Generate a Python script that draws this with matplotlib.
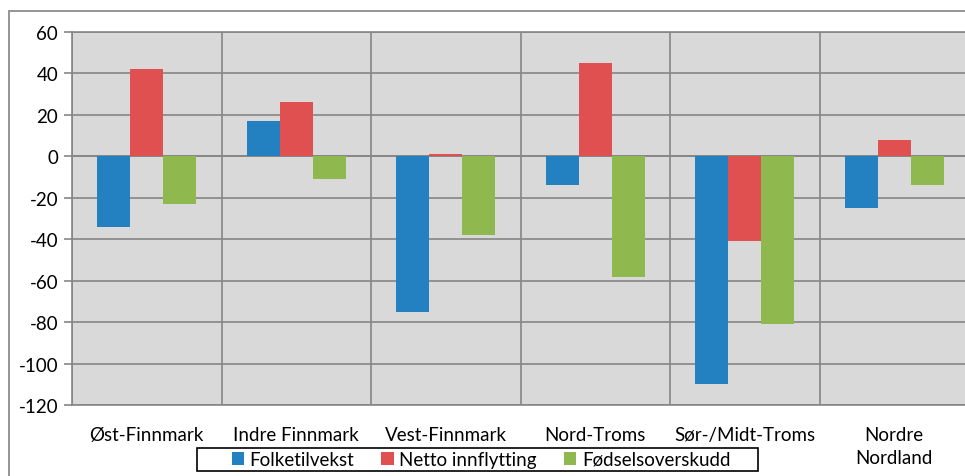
import numpy as np
import matplotlib
matplotlib.use("Agg")
import matplotlib.pyplot as plt
from matplotlib.patches import Rectangle

regions = ["Øst-Finnmark", "Indre Finnmark", "Vest-Finnmark", "Nord-Troms",
           "Sør-/Midt-Troms", "Nordre\nNordland"]
folketilvekst = [-34, 17, -75, -14, -110, -25]
netto_innflytting = [42, 26, 1, 45, -41, 8]
fodselsoverskudd = [-23, -11, -38, -58, -81, -14]

series = [
    ("Folketilvekst", folketilvekst, "#2481c1"),
    ("Netto innflytting", netto_innflytting, "#e05050"),
    ("Fødselsoverskudd", fodselsoverskudd, "#8fb94f"),
]

plt.rcParams["font.family"] = ["Lato", "DejaVu Sans"]
plt.rcParams["axes.unicode_minus"] = False
FS = 13.5

fig = plt.figure(figsize=(9.65, 4.77), dpi=100)
fig.patches.append(Rectangle((9 / 965, -0.1), 1.1, 1 - 12 / 477 + 0.1,
                             transform=fig.transFigure, fill=False,
                             edgecolor="#8c8c8c", lw=1.3))
ax = fig.add_axes([72 / 965, 1 - 406 / 477, 897 / 965, 373 / 477])
ax.set_facecolor("#d9d9d9")

x = np.arange(len(regions))
w = 0.22
for i, (label, vals, color) in enumerate(series):
    ax.bar(x + (i - 1) * w, vals, w, color=color, label=label, zorder=3)

ax.set_xlim(-0.5, len(regions) - 0.5)
ax.set_ylim(-120, 60)
ax.set_yticks(range(-120, 61, 20))
ax.set_xticks(x)
ax.set_xticklabels(regions, fontsize=FS, linespacing=1.45, va="top")
ax.set_xticks(np.arange(-0.5, len(regions), 1), minor=True)
ax.tick_params(axis="x", which="both", length=0, pad=15)
ax.tick_params(axis="y", length=6, color="#868686", width=1.2, labelsize=FS, pad=4)
ax.grid(axis="y", color="#868686", lw=1.2, zorder=1)
ax.grid(axis="x", which="minor", color="#868686", lw=1.2, zorder=1)
ax.axhline(0, color="#868686", lw=1.2, zorder=2)
for s in ax.spines.values():
    s.set_color("#868686")
    s.set_linewidth(1.2)

# legend box drawn separately
fig.patches.append(Rectangle((197 / 965, 1 - 472 / 477), 561 / 965, 23 / 477,
                             transform=fig.transFigure, fill=True,
                             facecolor="white", edgecolor="black", lw=1.2,
                             zorder=5))
leg = fig.legend(loc="center", bbox_to_anchor=(481 / 965, 1 - 460.5 / 477),
                 ncol=3, fontsize=FS, frameon=False,
                 handlelength=0.65, handleheight=0.65, handletextpad=0.3,
                 columnspacing=1.45, borderpad=0)
leg.set_zorder(6)

fig.savefig("out.png", dpi=100)
